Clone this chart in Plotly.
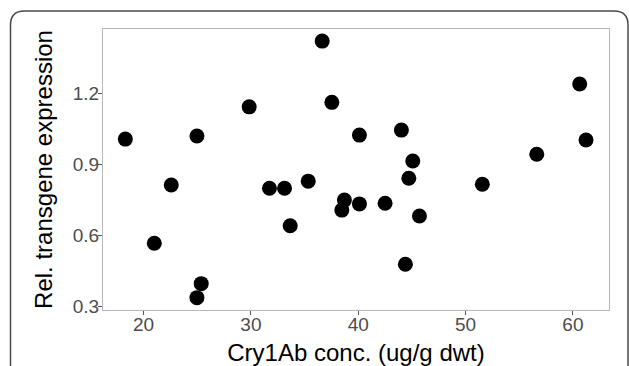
import plotly.graph_objects as go

cry1ab = [18.30, 21.00, 22.58, 24.97, 24.97, 25.37, 29.84, 31.73, 33.13, 33.66,
          35.34, 36.64, 37.54, 38.47, 38.71, 40.11, 40.11, 42.50, 44.02, 44.39,
          44.71, 45.08, 45.70, 51.56, 56.63, 60.63, 61.22]
expression = [1.006, 0.567, 0.813, 1.019, 0.338, 0.397, 1.142, 0.799, 0.799, 0.641,
              0.829, 1.419, 1.161, 0.707, 0.749, 0.733, 1.023, 0.736, 1.044, 0.479,
              0.841, 0.914, 0.682, 0.816, 0.942, 1.238, 1.002]

x_ticks = [20, 30, 40, 50, 60]
y_ticks = [0.3, 0.6, 0.9, 1.2]
y_ticktext = ["0.3", "0.6", "0.9", "1.2"]

W, H = 629, 366
L, R, T, B = 103, 20, 29, 56
PW, PH = W - L - R, H - T - B

def px(x):
    return (x - L) / PW

def py(y):
    return 1 - (y - T) / PH

fig = go.Figure()
fig.add_trace(go.Scatter(
    x=cry1ab, y=expression, mode="markers",
    marker=dict(size=15, color="black", line=dict(width=0)),
    showlegend=False, hoverinfo="x+y"))

FONT = "Liberation Sans, Arial, sans-serif"
axis_common = dict(
    showgrid=False, zeroline=False, showline=True, mirror=True,
    linecolor="#b8b8b8", linewidth=1,
    ticks="outside", ticklen=4, tickwidth=1, tickcolor="#555555",
    tickfont=dict(family=FONT, size=19, color="#4d4d4d"),
)

fig.update_xaxes(range=[16.22, 63.36], tickvals=x_ticks,
                 ticklabelstandoff=-7,
                 title=dict(text="Cry1Ab conc. (ug/g dwt)",
                            font=dict(family=FONT, size=24, color="black"),
                            standoff=12),
                 **axis_common)
fig.update_yaxes(range=[0.286, 1.470], tickvals=y_ticks, ticktext=y_ticktext,
                 ticklabelstandoff=-5,
                 title=dict(text="Rel. transgene expression",
                            font=dict(family=FONT, size=24, color="black"),
                            standoff=13),
                 **axis_common)

# rounded figure frame
xl, xr, yt, yb, r = 10.5, 628.0, 11.0, 400.0, 14.0
path = (f"M {px(xl)},{py(yb)} L {px(xl)},{py(yt + r)} "
        f"Q {px(xl)},{py(yt)} {px(xl + r)},{py(yt)} "
        f"L {px(xr - r)},{py(yt)} Q {px(xr)},{py(yt)} {px(xr)},{py(yt + r)} "
        f"L {px(xr)},{py(yb)}")
fig.add_shape(type="path", path=path, xref="paper", yref="paper",
              line=dict(color="#4a4a4a", width=1.5), fillcolor="rgba(0,0,0,0)",
              layer="above")

fig.update_layout(
    width=W, height=H,
    margin=dict(l=L, r=R, t=T, b=B, autoexpand=False),
    paper_bgcolor="white", plot_bgcolor="white",
    font=dict(family=FONT),
)

fig.write_html("out.html",
               config={"displayModeBar": False},
               post_script="document.body.style.margin='0';"
                           "document.body.style.overflow='hidden';")
